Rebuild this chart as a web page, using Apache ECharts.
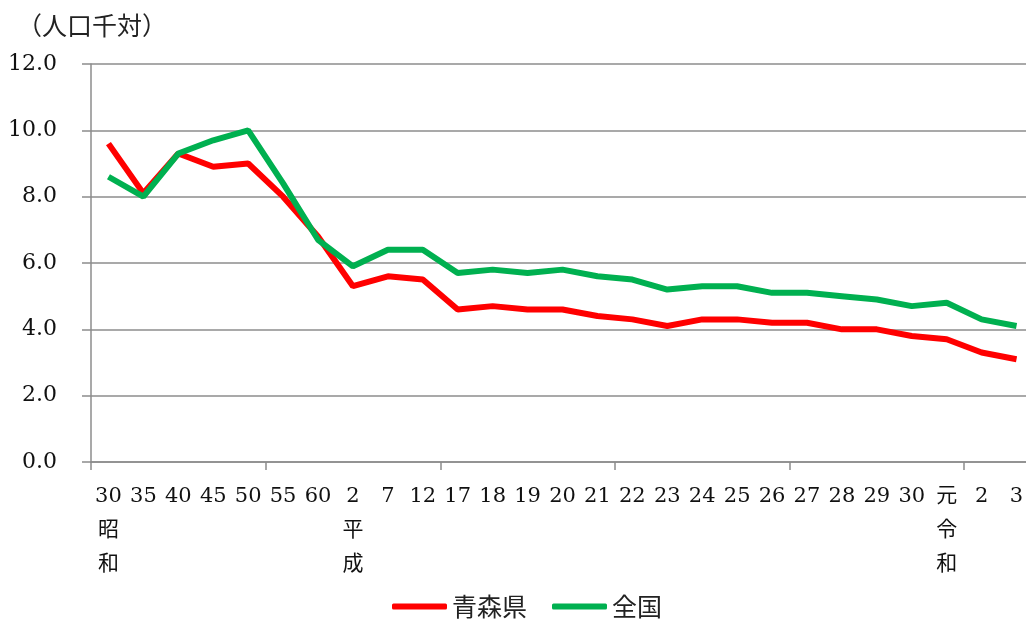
<!DOCTYPE html>
<html lang="ja">
<head>
  <meta charset="UTF-8">
  <title>人口千対</title>
  <style>
    html, body { margin: 0; padding: 0; background: #fff; overflow: hidden; }
    /* chart is a bit wider than the window: the plot area runs off the right edge like the original */
    #chart { width: 1040px; height: 626px; }
  </style>
</head>
<body>
<div id="chart"></div>
<script src="https://cdn.jsdelivr.net/npm/echarts@6/dist/echarts.min.js"></script>
<script>
  const categories = ['30\n昭\n和', '35', '40', '45', '50', '55', '60', '2\n平\n成', '7', '12',
    '17', '18', '19', '20', '21', '22', '23', '24', '25', '26', '27', '28', '29', '30',
    '元\n令\n和', '2', '3'];
  const aomori = [9.6, 8.1, 9.3, 8.9, 9.0, 8.0, 6.8, 5.3, 5.6, 5.5,
    4.6, 4.7, 4.6, 4.6, 4.4, 4.3, 4.1, 4.3, 4.3, 4.2, 4.2, 4.0, 4.0, 3.8,
    3.7, 3.3, 3.1];
  const zenkoku = [8.6, 8.0, 9.3, 9.7, 10.0, 8.4, 6.7, 5.9, 6.4, 6.4,
    5.7, 5.8, 5.7, 5.8, 5.6, 5.5, 5.2, 5.3, 5.3, 5.1, 5.1, 5.0, 4.9, 4.7,
    4.8, 4.3, 4.1];

  const serif = '"DejaVu Serif", "Noto Sans CJK JP", serif';
  const gridGray = '#8c8c8c';

  const chart = echarts.init(document.getElementById('chart'));
  chart.setOption({
    animation: false,
    title: {
      text: '（人口千対）',
      left: 12, top: 8,
      textStyle: {fontFamily: '"Noto Sans CJK JP", sans-serif', fontSize: 25, fontWeight: 'normal', color: '#222'}
    },
    legend: {
      bottom: 2, left: 387,
      icon: 'roundRect',
      itemWidth: 55, itemHeight: 6, itemGap: 25,
      textStyle: {fontFamily: '"Noto Sans CJK JP", sans-serif', fontSize: 25, color: '#222'},
      data: ['青森県', '全国']
    },
    grid: {left: 91, right: 6, top: 64, bottom: 164, containLabel: false},
    xAxis: {
      type: 'category',
      data: categories,
      boundaryGap: true,
      axisLine: {lineStyle: {color: gridGray, width: 1.5}},
      axisTick: {
        show: true, length: 8, lineStyle: {color: gridGray, width: 1.5},
        interval: i => i % 5 === 0
      },
      axisLabel: {
        interval: 0, margin: 18, color: '#111',
        fontFamily: serif, fontSize: 21, lineHeight: 34,
        verticalAlign: 'top'
      }
    },
    yAxis: {
      type: 'value', min: 0, max: 12, interval: 2,
      axisLine: {show: true, lineStyle: {color: gridGray, width: 1.5}},
      axisTick: {show: true, length: 9, lineStyle: {color: gridGray, width: 1.5}},
      splitLine: {lineStyle: {color: gridGray, width: 1.5}},
      axisLabel: {
        margin: 34, color: '#111', fontFamily: serif, fontSize: 22,
        formatter: v => v.toFixed(1)
      }
    },
    series: [
      {
        name: '青森県', type: 'line', data: aomori,
        symbol: 'none', color: '#ff0000',
        lineStyle: {width: 6, color: '#ff0000'}
      },
      {
        name: '全国', type: 'line', data: zenkoku,
        symbol: 'none', color: '#00b050',
        lineStyle: {width: 6, color: '#00b050'}
      }
    ]
  });
</script>
</body>
</html>
